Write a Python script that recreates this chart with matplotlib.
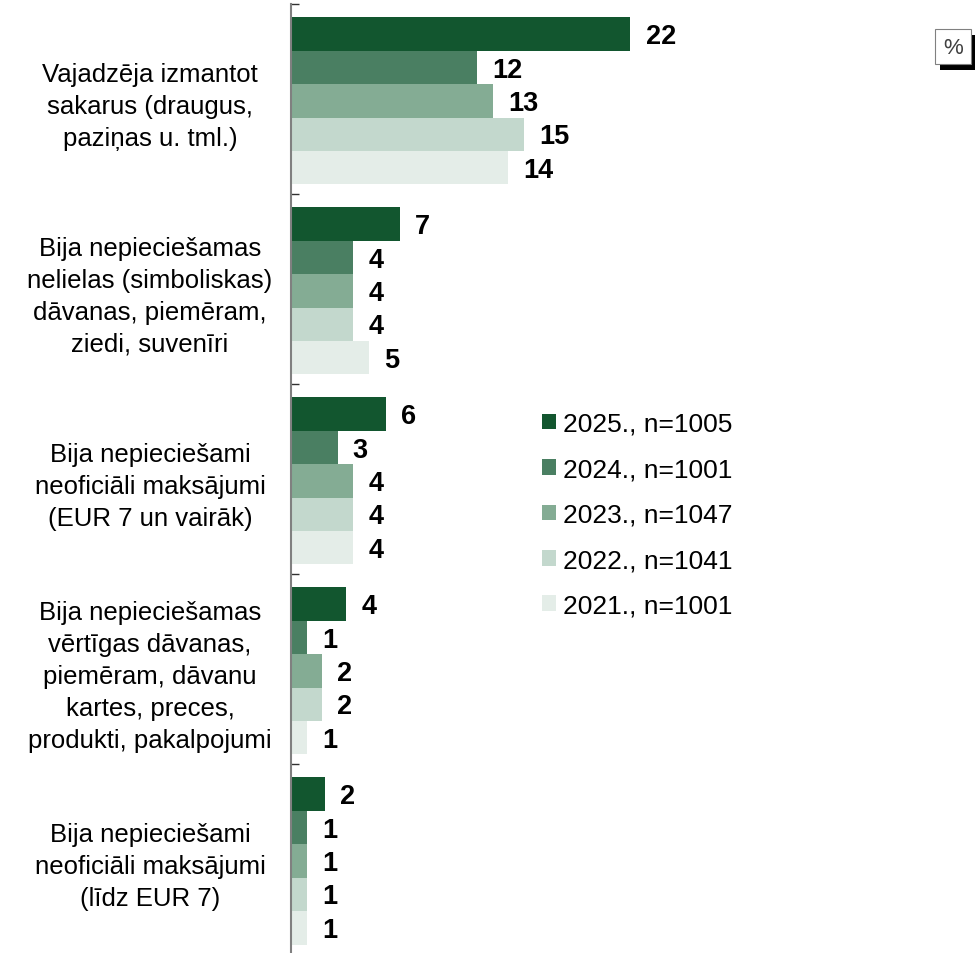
import matplotlib
matplotlib.use("Agg")
import matplotlib.pyplot as plt
from matplotlib.patches import Rectangle, Patch
import numpy as np

plt.rcParams['font.family'] = ['Liberation Sans', 'DejaVu Sans']

categories = [
    "Vajadzēja izmantot\nsakarus (draugus,\npaziņas u. tml.)",
    "Bija nepieciešamas\nnelielas (simboliskas)\ndāvanas, piemēram,\nziedi, suvenīri",
    "Bija nepieciešami\nneoficiāli maksājumi\n(EUR 7 un vairāk)",
    "Bija nepieciešamas\nvērtīgas dāvanas,\npiemēram, dāvanu\nkartes, preces,\nprodukti, pakalpojumi",
    "Bija nepieciešami\nneoficiāli maksājumi\n(līdz EUR 7)",
]
series_labels = ["2025., n=1005", "2024., n=1001", "2023., n=1047",
                 "2022., n=1041", "2021., n=1001"]
# bar lengths (labels are rounded)
v2025 = [21.9, 7.0, 6.1, 3.55, 2.2]
v2024 = [12.0, 4.0, 3.0, 1.0, 1.0]
v2023 = [13.0, 4.0, 4.0, 2.0, 1.0]
v2022 = [15.0, 4.0, 4.0, 2.0, 1.0]
v2021 = [14.0, 5.0, 4.0, 1.0, 1.0]
series_values = [v2025, v2024, v2023, v2022, v2021]
colors = ["#12562f", "#4a7f62", "#84ac94", "#c3d8cd", "#e4ede8"]

W, H = 975, 954
fig = plt.figure(figsize=(W / 100, H / 100), dpi=100)
ax_left, ax_right = 291, 975
ax_top, ax_bot = 5, 955
ax = fig.add_axes([ax_left / W, (H - ax_bot) / H, (ax_right - ax_left) / W,
                   (ax_bot - ax_top) / H])

ncat = len(categories)
bar_h = 0.176
start_off = 0.07
scale = 15.5
xmax = (ax_right - ax_left) / scale
ax.set_xlim(0, xmax)
ax.set_ylim(ncat, 0)

for j, (vals, col, lab) in enumerate(zip(series_values, colors, series_labels)):
    ys = np.arange(ncat) + start_off + bar_h * (j + 0.5)
    ax.barh(ys, vals, height=bar_h, color=col, label=lab, linewidth=0)
    for y, v in zip(ys, vals):
        ax.annotate(f"{v:.0f}", (v, y), xytext=(11, -1.5), textcoords="offset points",
                    ha="left", va="center", fontsize=19.5, fontweight="bold",
                    color="black")

# category labels
for i, cat in enumerate(categories):
    ax.text(-(ax_left - 150) / scale, i + 0.5 + 7 / 190, cat, ha="center", va="center",
            fontsize=18.5, linespacing=1.42, color="black")

for s in ["top", "right", "bottom"]:
    ax.spines[s].set_visible(False)
ax.spines["left"].set_color("#808080")
ax.spines["left"].set_linewidth(1.5)
ax.set_xticks([])
ax.set_yticks(np.arange(ncat + 1))
ax.set_yticklabels([])
ax.tick_params(axis="y", direction="in", length=6, width=1, color="#303030")

handles = [Patch(facecolor=c, edgecolor="none") for c in colors]
leg = fig.legend(handles, series_labels, loc="upper left",
                 bbox_to_anchor=(542 / W, 1 - 413 / H), frameon=False,
                 fontsize=19, handlelength=0.53, handleheight=0.53,
                 handletextpad=0.25, labelspacing=0.81, borderpad=0, borderaxespad=0)

# % box with shadow
fig.patches.append(Rectangle((940 / W, 1 - 71 / H), 36 / W, 35 / H,
                             transform=fig.transFigure, facecolor="black",
                             edgecolor="none", zorder=5))
fig.patches.append(Rectangle((935 / W, 1 - 65 / H), 36 / W, 35 / H,
                             transform=fig.transFigure, facecolor="white",
                             edgecolor="#808080", linewidth=0.8, zorder=6))
fig.text(953 / W, 1 - 48 / H, "%", ha="center", va="center", fontsize=16,
         color="#404040", zorder=7)

fig.savefig("out.png", dpi=100)
